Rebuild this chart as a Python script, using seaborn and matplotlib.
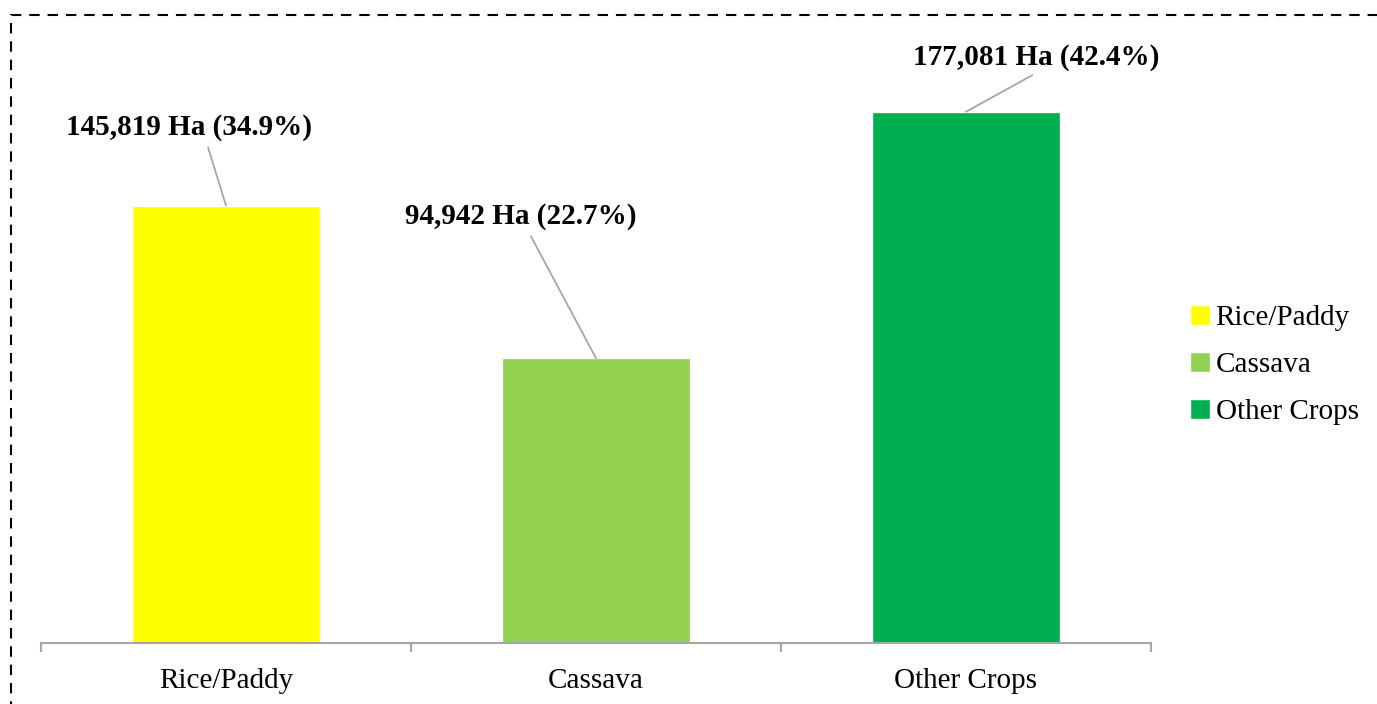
import matplotlib
matplotlib.use("Agg")
import matplotlib.pyplot as plt
from matplotlib.patches import Rectangle
import seaborn as sns
import pandas as pd

# Harvested area by crop
crops = ["Rice/Paddy", "Cassava", "Other Crops"]
area_ha = [145819, 94942, 177081]
share_pct = [34.9, 22.7, 42.4]
colors = ["#FFFF00", "#92D050", "#00B050"]

sns.set_theme(style="white")
plt.rcParams["font.family"] = ["Liberation Serif", "DejaVu Serif"]

df = pd.DataFrame({"crop": crops, "area": area_ha})

fig = plt.figure(figsize=(13.77, 7.04), dpi=100)
ax = fig.add_axes([41 / 1377, 61 / 704, 1110 / 1377, 600 / 704])

sns.barplot(data=df, x="crop", y="area", hue="crop", palette=colors,
            width=0.51, dodge=False, legend=True, ax=ax, saturation=1)

ax.set_ylim(0, 200000)
ax.set_xlim(-0.5, 2.5)
ax.set_xlabel("")
ax.set_ylabel("")
ax.set_yticks([])
for side in ["top", "right", "left"]:
    ax.spines[side].set_visible(False)
ax.spines["bottom"].set_color("#A6A6A6")
ax.spines["bottom"].set_linewidth(1.5)

# category labels centred, tick marks on the category boundaries
ax.tick_params(axis="x", which="major", length=0, pad=18, labelsize=21,
               labelcolor="black")
ax.set_xticks([-0.5, 0.5, 1.5, 2.5], minor=True)
ax.tick_params(axis="x", which="minor", length=6.5, width=1.5, color="#A6A6A6",
               bottom=True)

# value labels with leader lines
label_pos = [(-0.1, 171667), (0.797, 142000), (2.189, 195333)]
rel_x = [0.57, 0.53, 0.52]
for i, (val, pct) in enumerate(zip(area_ha, share_pct)):
    ax.annotate(f"{val:,} Ha ({pct}%)", xy=(i, val), xytext=label_pos[i],
                ha="center", va="center", fontsize=21, fontweight="bold",
                color="black",
                arrowprops=dict(arrowstyle="-", color="#A6A6A6", lw=1.3,
                                shrinkA=2, shrinkB=0, relpos=(rel_x[i], 0)))

# legend on the right
handles, labels = ax.get_legend_handles_labels()
ax.get_legend().remove()
fig.legend(handles, labels, loc="center left",
           bbox_to_anchor=(1190 / 1377, 1 - 365 / 704), frameon=False,
           fontsize=21, labelcolor="black", handlelength=0.68,
           handleheight=0.68, handletextpad=0.2, labelspacing=0.7,
           borderpad=0, borderaxespad=0)

# dashed frame around the chart
frame = Rectangle((11 / 1377, -0.05), 1.2, 1 - 15 / 704 + 0.05,
                  transform=fig.transFigure, fill=False, edgecolor="black",
                  lw=1.5, linestyle=(0, (5.0, 3.8)), clip_on=False)
fig.patches.append(frame)

fig.savefig("out.png", dpi=100)
